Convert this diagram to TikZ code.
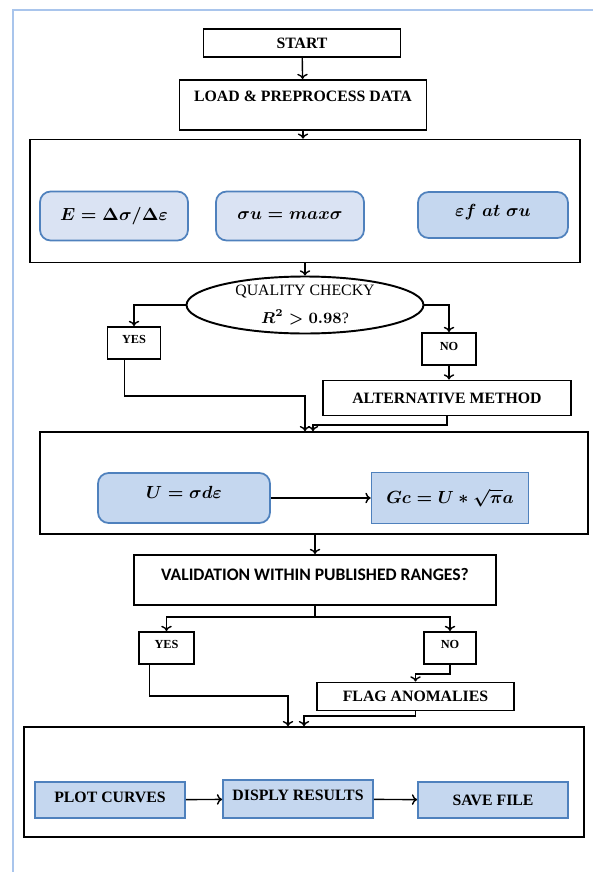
\documentclass[tikz,border=0pt]{standalone}
\usepackage{fontspec}
\setmainfont{Liberation Serif}[BoldFont={Liberation Serif Bold}, ItalicFont={Liberation Serif Italic}]
\newfontfamily\calibrifont{Carlito}[BoldFont={Carlito Bold}]
\usepackage{amsmath}
\usetikzlibrary{arrows.meta, positioning, shapes.geometric, calc}

\definecolor{pageblue}{HTML}{A9C5EC}
\definecolor{paleblue}{HTML}{DAE3F3}
\definecolor{softblue}{HTML}{C5D7EF}
\definecolor{edgeblue}{HTML}{4F81BD}

\tikzset{
  stepbox/.style={draw=black, line width=1.1pt, inner sep=0pt,
    font=\bfseries\fontsize{9}{11}\selectfont},
  answer/.style={stepbox, minimum width=1.06cm, minimum height=0.64cm,
    text depth=0.16cm, font=\bfseries\fontsize{7}{8}\selectfont},
  frame/.style={draw=black, line width=0.9pt, inner sep=0pt},
  formula/.style={draw=edgeblue, line width=1pt, rounded corners=6pt, fill=paleblue,
    inner sep=0pt, minimum width=2.96cm, minimum height=0.98cm,
    font=\fontsize{10}{12}\selectfont\boldmath},
  action/.style={draw=edgeblue, line width=1pt, fill=softblue, inner sep=0pt,
    minimum width=3cm, minimum height=0.72cm,
    font=\bfseries\fontsize{9}{11}\selectfont},
  link/.style={-{To[length=3pt,width=6pt]}, line width=0.8pt},
  pageline/.style={draw=pageblue, line width=0.8pt}
}

\begin{document}
\begin{tikzpicture}[x=0.02cm, y=-0.02cm]
  \useasboundingbox (0,0) rectangle (593,872);

  % page margin lines
  \draw[pageline] (13,872) -- (13,10) -- (593,10);

  % top steps
  \node[stepbox, minimum width=3.94cm, minimum height=0.56cm] (start) at (302,43) {START};
  \node[stepbox, minimum width=4.94cm, minimum height=1cm, text depth=0.34cm] (load) at (303,105) {LOAD \& PREPROCESS DATA};

  % material properties
  \node[frame, minimum width=11cm, minimum height=2.46cm] (props) at (305,201) {};
  \node[formula] (modulus) at (114,216) {$E = \Delta\sigma/\Delta\varepsilon$};
  \node[formula] (strength) at (290,216) {$\sigma u = max\sigma$};
  \node[formula, fill=softblue, minimum height=0.92cm, minimum width=3cm, text depth=0.2cm] (strain) at (493,215) {$\varepsilon f\;at\;\sigma u$};

  % quality check
  \node[draw, line width=1.1pt, ellipse, minimum width=4.74cm, minimum height=1.14cm,
    inner sep=0pt, align=center, font=\fontsize{9}{11}\selectfont] (check) at (305,305)
    {QUALITY CHECKY\\[5pt] {\boldmath$R^{2} > 0.98$}?};
  \node[answer] (yes1) at (134,343) {YES};
  \node[answer, minimum width=1.08cm, text depth=0.12cm] (no1) at (449,349) {NO};
  \node[stepbox, minimum width=4.96cm, minimum height=0.7cm] (alt) at (447,398) {ALTERNATIVE METHOD};

  % toughness
  \node[frame, minimum width=10.96cm, minimum height=2.04cm] (tough) at (314,483) {};
  \node[formula, fill=softblue, minimum width=3.44cm, minimum height=1cm, text depth=0.22cm] (energy) at (184,498) {$U = \sigma d\varepsilon$};
  \node[formula, fill=softblue, rounded corners=0pt, minimum width=3.14cm, minimum height=1.02cm] (gc) at (450,498) {$Gc = U * \sqrt{\pi}a$};

  % validation
  \node[stepbox, minimum width=7.24cm, minimum height=1cm, text depth=0.24cm,
    font=\calibrifont\bfseries\fontsize{10}{12}\selectfont] (valid) at (315,580) {VALIDATION WITHIN PUBLISHED RANGES?};
  \node[answer, minimum width=1.1cm] (yes2) at (166.5,648) {YES};
  \node[answer, minimum width=1.04cm] (no2) at (450,648) {NO};
  \node[stepbox, minimum width=3.94cm, minimum height=0.56cm] (flag) at (415.5,696.5) {FLAG ANOMALIES};

  % output
  \node[frame, minimum width=11.2cm, minimum height=2.2cm] (output) at (304,782) {};
  \node[action, text depth=0.12cm] (plot) at (110,800) {PLOT CURVES};
  \node[action, minimum height=0.76cm, text depth=0.16cm] (show) at (298,799) {DISPLY RESULTS};
  \node[action] (save) at (493,800) {SAVE FILE};

  % connectors
  \draw[link] (start) -- (load);
  \draw[link] (load.south) -- (load.south |- props.north);
  \draw[link] (props.south -| check.north) -- (check.north);
  \draw[link] (check.west) -| (yes1.north);
  \draw[link] (check.east) -| (no1.north);
  \draw[link] (no1.south) -- (no1.south |- alt.north);

  \coordinate (yesjoin) at (305,396);
  \coordinate (altjoin) at (313,425);
  \draw[link] ($(yes1.south west)!.33!(yes1.south east)$) |- (yesjoin) -- (yesjoin |- tough.north);
  \draw[link] (alt.south) |- (altjoin) -- (altjoin |- tough.north);

  \draw[link] (energy) -- (gc);
  \draw[link] (tough.south -| valid.north) -- (valid.north);

  \coordinate (split) at (315,617);
  \draw[line width=1.4pt] (valid.south) -- (split);
  \draw[link] (split) -| (yes2.north);
  \draw[link] (split) -| (no2.north);

  \coordinate (nojoin) at (450,674);
  \draw[link] (no2.south) -- (nojoin) -| (flag.north);

  \coordinate (okjoin) at (288,696);
  \coordinate (flagjoin) at (304,716);
  \draw[link] ($(yes2.south west)!.2!(yes2.south east)$) |- (okjoin) -- (okjoin |- output.north);
  \draw[link] (flag.south) |- (flagjoin) -- (flagjoin |- output.north);

  \draw[link] (plot) -- (show);
  \draw[link] (show) -- (save);
\end{tikzpicture}
\end{document}
